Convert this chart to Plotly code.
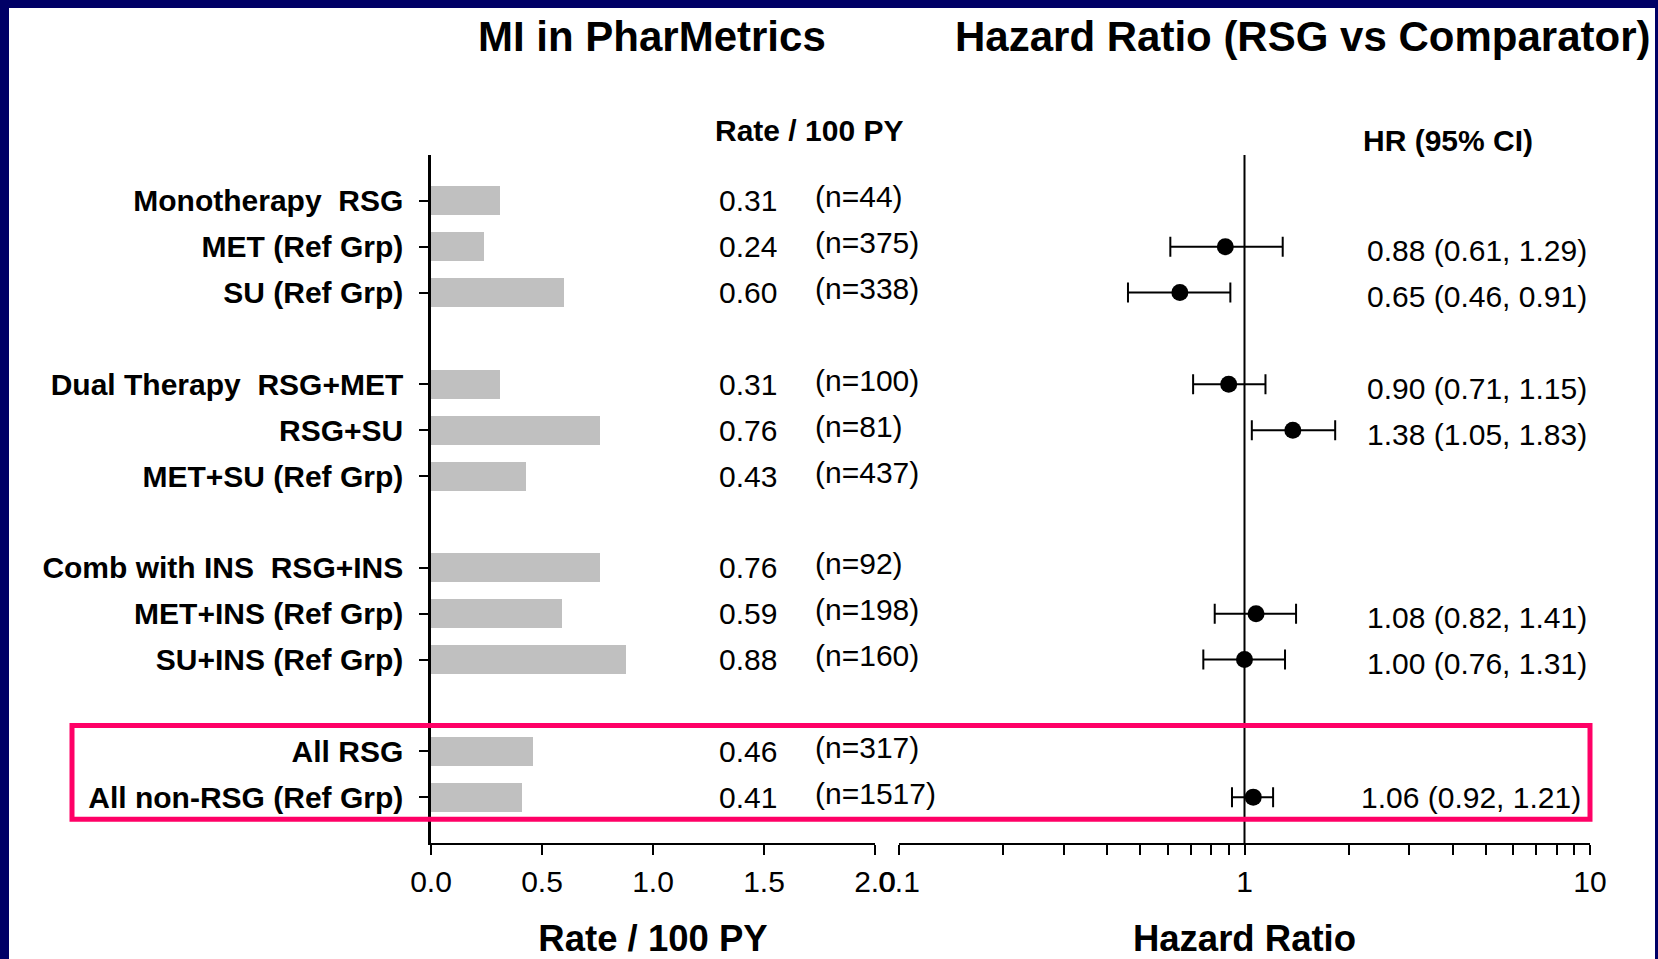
import plotly.graph_objects as go

# ---------------- data ----------------
labels = ["Monotherapy\u00a0\u00a0RSG", "MET (Ref Grp)", "SU (Ref Grp)",
          "Dual Therapy\u00a0\u00a0RSG+MET", "RSG+SU", "MET+SU (Ref Grp)",
          "Comb with INS\u00a0\u00a0RSG+INS", "MET+INS (Ref Grp)", "SU+INS (Ref Grp)",
          "All RSG", "All non-RSG (Ref Grp)"]
rows = [0, 1, 2, 4, 5, 6, 8, 9, 10, 12, 13]
rates = [0.31, 0.24, 0.60, 0.31, 0.76, 0.43, 0.76, 0.59, 0.88, 0.46, 0.41]
counts = [44, 375, 338, 100, 81, 437, 92, 198, 160, 317, 1517]
hr = [None, 0.88, 0.65, 0.90, 1.38, None, None, 1.08, 1.00, None, 1.06]
hr_lo = [None, 0.61, 0.46, 0.71, 1.05, None, None, 0.82, 0.76, None, 0.92]
hr_hi = [None, 1.29, 0.91, 1.15, 1.83, None, None, 1.41, 1.31, None, 1.21]
rate_ticks = [0, 0.5, 1.0, 1.5, 2.0]
rate_ticktext = ["0.0", "0.5", "1.0", "1.5", "2.0"]
hr_ticks = [0.1, 0.2, 0.3, 0.4, 0.5, 0.6, 0.7, 0.8, 0.9, 1, 2, 3, 4, 5, 6, 7, 8, 9, 10]
hr_ticktext = ["0.1"] + [""] * 8 + ["1"] + [""] * 8 + ["10"]

# ---------------- geometry helpers ----------------
W, H = 1658, 959
def px(x):
    return x / W
def py(y):
    return 1 - y / H

FONT = "Liberation Sans, Arial, sans-serif"
NAVY = "#000066"
FS = 30
BOX_TOP, BOX_BOTTOM = 11.44, 13.48

fig = go.Figure()

fig.add_trace(go.Bar(
    x=rates, y=rows, orientation="h", width=0.63,
    marker=dict(color="#c0c0c0", line=dict(width=0)),
    xaxis="x", yaxis="y", showlegend=False, hoverinfo="skip"))

pts = [(h, r, h_hi - h, h - h_lo) for h, r, h_lo, h_hi in zip(hr, rows, hr_lo, hr_hi) if h is not None]
fig.add_trace(go.Scatter(
    x=[p[0] for p in pts], y=[p[1] for p in pts], mode="markers",
    marker=dict(color="black", size=17),
    error_x=dict(type="data", symmetric=False,
                 array=[p[2] for p in pts], arrayminus=[p[3] for p in pts],
                 color="black", thickness=2, width=10),
    xaxis="x2", yaxis="y2", showlegend=False, hoverinfo="skip"))

ydom = [py(843), py(155)]
yrange = [14, -1]

fig.update_layout(
    width=W, height=H, autosize=False,
    margin=dict(l=0, r=0, t=0, b=0, pad=0),
    paper_bgcolor=NAVY, plot_bgcolor="rgba(0,0,0,0)",
    template="none",
    font=dict(family=FONT, color="black", size=FS),
    bargap=0,
    xaxis=dict(domain=[px(431), px(875)], range=[0, 2], anchor="y",
               tickvals=rate_ticks, ticktext=rate_ticktext,
               ticks="outside", ticklen=10, tickwidth=2, tickcolor="black",
               showline=True, linecolor="black", linewidth=2,
               showgrid=False, zeroline=False, automargin=False,
               tickfont=dict(size=FS, family=FONT),
               ticklabelstandoff=1,
               title=dict(text="<b>Rate / 100 PY</b>", font=dict(size=36.5, family=FONT), standoff=34)),
    yaxis=dict(domain=ydom, range=yrange, anchor="x",
               tickvals=rows, ticktext=["<b>%s</b>" % t for t in labels],
               ticks="outside", ticklen=9, tickwidth=2, tickcolor="black",
               showline=True, linecolor="black", linewidth=2.5,
               showgrid=False, zeroline=False, automargin=False,
               tickfont=dict(size=FS, family=FONT),
               ticklabelstandoff=10),
    xaxis2=dict(domain=[px(899), px(1590)], type="log", range=[-1, 1], anchor="y2",
                tickvals=hr_ticks, ticktext=hr_ticktext,
                ticks="outside", ticklen=10, tickwidth=2, tickcolor="black",
                showline=True, linecolor="black", linewidth=2,
                showgrid=False, zeroline=False, automargin=False,
                tickfont=dict(size=FS, family=FONT),
                ticklabelstandoff=1,
                title=dict(text="<b>Hazard Ratio</b>", font=dict(size=36.5, family=FONT), standoff=34)),
    yaxis2=dict(domain=ydom, range=yrange, anchor="x2",
                showticklabels=False, ticks="", showline=False,
                showgrid=False, zeroline=False, automargin=False),
)

shapes = [
    # white page inside navy frame
    dict(type="rect", xref="paper", yref="paper", x0=px(9), x1=px(1655), y0=0, y1=py(8),
         fillcolor="white", line=dict(width=0), layer="below"),
    # reference line at HR = 1
    dict(type="line", xref="x2", yref="y2 domain", x0=1, x1=1, y0=0, y1=1,
         line=dict(color="black", width=2)),
    # highlight box around overall rows
    dict(type="rect", xref="paper", yref="y", x0=px(72), x1=px(1590), y0=BOX_TOP, y1=BOX_BOTTOM,
         fillcolor="rgba(0,0,0,0)", line=dict(color="#ff0066", width=5)),
]
fig.update_layout(shapes=shapes)

ann = []
ann.append(dict(text="<b>MI in PharMetrics</b>", x=px(652), y=py(37), xref="paper", yref="paper",
                showarrow=False, font=dict(size=42, family=FONT), xanchor="center", yanchor="middle"))
ann.append(dict(text="<b>Hazard Ratio (RSG vs Comparator)</b>", x=px(1302), y=py(37), xref="paper", yref="paper",
                showarrow=False, font=dict(size=42, family=FONT), xanchor="center", yanchor="middle"))
ann.append(dict(text="<b>Rate / 100 PY</b>", x=px(809), y=py(131), xref="paper", yref="paper",
                showarrow=False, font=dict(size=FS, family=FONT), xanchor="center", yanchor="middle"))
ann.append(dict(text="<b>HR (95% CI)</b>", x=px(1448), y=py(141), xref="paper", yref="paper",
                showarrow=False, font=dict(size=FS, family=FONT), xanchor="center", yanchor="middle"))
for r, v, n in zip(rows, rates, counts):
    ann.append(dict(text="%.2f" % v, x=px(717), y=r, xref="paper", yref="y", showarrow=False,
                    font=dict(size=FS, family=FONT), xanchor="left", yanchor="middle"))
    ann.append(dict(text="(n=%d)" % n, x=px(813), y=r, xref="paper", yref="y", showarrow=False,
                    font=dict(size=FS, family=FONT), xanchor="left", yanchor="middle", yshift=4))
for r, h, lo, hi in zip(rows, hr, hr_lo, hr_hi):
    if h is None:
        continue
    in_box = BOX_TOP < r < BOX_BOTTOM
    ann.append(dict(text="%.2f (%.2f, %.2f)" % (h, lo, hi), x=px(1365), y=r, xref="paper", yref="y",
                    showarrow=False, font=dict(size=FS, family=FONT), xanchor="left", yanchor="middle",
                    yshift=0 if in_box else -4, xshift=-6 if in_box else 0))
fig.update_layout(annotations=ann)

fig.write_html("out.html", config={"displayModeBar": False},
               post_script="document.body.style.margin='0';")
